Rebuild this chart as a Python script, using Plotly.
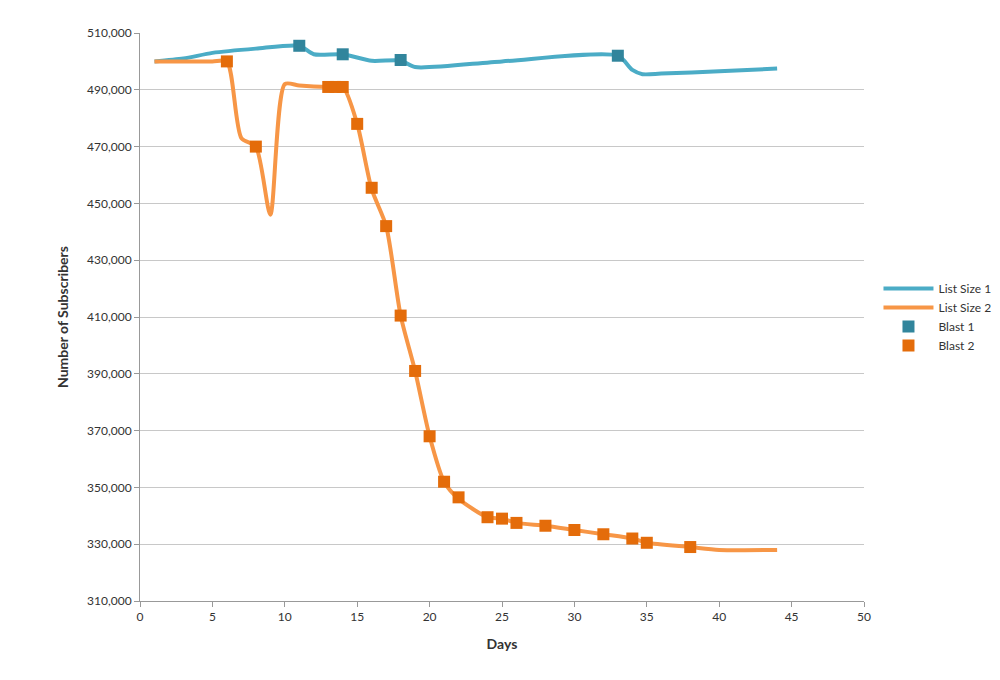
import plotly.graph_objects as go

# List Size 1 (blue line)
days1 = [1, 3, 5, 8, 11, 12, 14, 16, 18, 19, 25, 33, 34, 34.7, 36, 40, 44]
size1 = [500000, 501000, 503000, 504500, 505500, 502500, 502500, 500200, 500300, 498000,
         500000, 502000, 497000, 495500, 495700, 496500, 497500]

# List Size 2 (orange line)
days2 = [1, 3, 5, 6, 7, 8, 9, 10, 11, 13, 14, 15, 16, 17, 18, 19, 20, 21, 22, 24, 25, 26,
         28, 30, 32, 34, 35, 38, 40, 44]
size2 = [500000, 500000, 500000, 500000, 473000, 470000, 446000, 492000, 491500, 491000,
         491000, 478000, 455000, 442000, 410500, 391000, 368000, 352000, 346000, 339500,
         339000, 337500, 336500, 335000, 333500, 332000, 330500, 329000, 328000, 328000]

blast1_days = [11, 14, 18, 33]
blast1_vals = [505500, 502500, 500500, 502000]

blast2_days = [6, 8, 13, 13.5, 14, 15, 16, 17, 18, 19, 20, 21, 22, 24, 25, 26, 28, 30,
               32, 34, 35, 38]
blast2_vals = [500000, 470000, 491000, 491000, 491000, 478000, 455500, 442000, 410500,
               391000, 368000, 352000, 346500, 339500, 339000, 337500, 336500, 335000,
               333500, 332000, 330500, 329000]

fig = go.Figure()
fig.add_trace(go.Scatter(x=days1, y=size1, mode="lines", name="List Size 1",
                         line={"color": "#4bacc6", "width": 4, "shape": "spline",
                               "smoothing": 0.7}))
fig.add_trace(go.Scatter(x=days2, y=size2, mode="lines", name="List Size 2",
                         line={"color": "#f79646", "width": 4, "shape": "spline",
                               "smoothing": 0.7}))
fig.add_trace(go.Scatter(x=blast1_days, y=blast1_vals, mode="markers", name="Blast 1",
                         marker={"symbol": "square", "size": 12, "color": "#31859c"}))
fig.add_trace(go.Scatter(x=blast2_days, y=blast2_vals, mode="markers", name="Blast 2",
                         marker={"symbol": "square", "size": 12, "color": "#e46c0a"}))

fig.update_layout(
    width=1000, height=680,
    margin={"l": 132, "r": 130, "t": 25, "b": 87},
    plot_bgcolor="white", paper_bgcolor="white",
    font={"family": "Lato, Liberation Sans, sans-serif", "size": 12, "color": "#333"},
    xaxis={"range": [0, 50], "dtick": 5, "showgrid": False, "showline": True,
           "linecolor": "#999", "ticks": "outside", "tickcolor": "#999",
           "title": {"text": "<b>Days</b>"}, "zeroline": False},
    yaxis={"range": [310000, 510000], "tick0": 310000, "dtick": 20000, "tickformat": ",",
           "showgrid": True, "gridcolor": "#c8c8c8", "showline": True,
           "linecolor": "#999", "ticks": "outside", "tickcolor": "#999",
           "title": {"text": "<b>Number of Subscribers</b>"}, "zeroline": False},
    legend={"x": 1.02, "y": 0.5, "yanchor": "middle", "tracegroupgap": 22,
            "itemwidth": 50},
)

fig.write_html("out.html")
